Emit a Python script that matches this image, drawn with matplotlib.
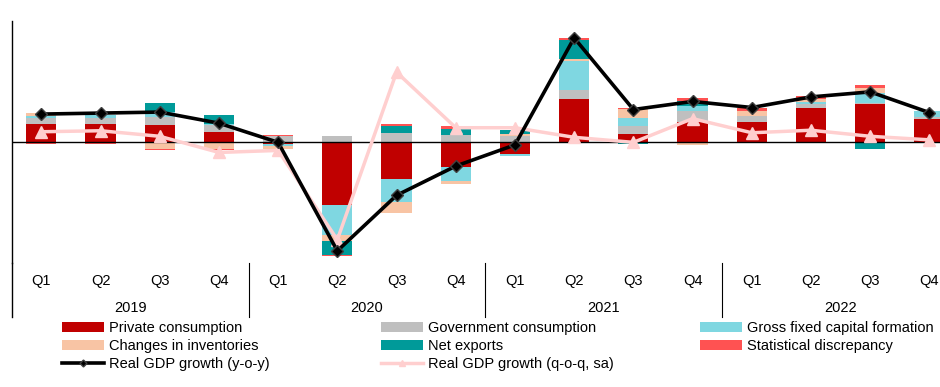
import numpy as np
import matplotlib
matplotlib.use("Agg")
import matplotlib.pyplot as plt
import matplotlib.transforms as mtransforms
from matplotlib.lines import Line2D
from matplotlib.patches import Patch

plt.rcParams['font.family'] = ['Liberation Sans', 'DejaVu Sans']
FS = 10.5

quarters = ['Q1', 'Q2', 'Q3', 'Q4'] * 4
years = ['2019', '2020', '2021', '2022']

# contributions to growth, percentage points
private = [1.8, 1.8, 1.7, 0.95, -0.25, -6.25, -3.65, -2.45,
           -1.2, 4.2, 0.75, 2.0, 2.0, 3.35, 3.7, 2.3]
government = [0.55, 0.55, 0.8, 0.7, 0.55, 0.55, 0.85, 0.65,
              0.6, 0.95, 0.8, 1.05, 0.55, 0.35, 0.1, 0.15]
gfcf = [0.25, 0.35, 0.45, 0.1, -0.15, -3.0, -2.3, -1.45,
        -0.25, 2.85, 0.85, 0.55, 0.05, 0.25, 1.0, 0.65]
inventories = [0.27, 0.0, -0.7, -0.75, -0.35, -0.6, -1.05, -0.25,
               0.15, 0.25, 0.85, -0.3, 0.5, 0.3, 0.5, 0.0]
net_exports = [0.0, 0.0, 0.85, 0.9, 0.0, -1.35, 0.75, 0.65,
               0.4, 1.85, -0.2, 0.45, 0.0, -0.12, -0.7, 0.0]
stat_disc = [-0.25, -0.2, -0.15, -0.1, 0.1, -0.15, 0.15, 0.3,
             0.0, 0.15, 0.15, 0.25, 0.3, 0.25, 0.3, -0.15]
gdp_yoy = [2.75, 2.85, 2.95, 1.85, -0.05, -10.8, -5.3, -2.4,
           -0.3, 10.3, 3.2, 4.0, 3.4, 4.45, 4.95, 2.9]
gdp_qoq = [1.0, 1.1, 0.55, -1.05, -0.85, -9.7, 6.9, 1.4,
           1.4, 0.45, -0.05, 2.3, 0.9, 1.15, 0.55, 0.2]

series = [
    ('Private consumption', private, '#C00000'),
    ('Government consumption', government, '#BFBFBF'),
    ('Gross fixed capital formation', gfcf, '#7FD7E1'),
    ('Changes in inventories', inventories, '#F8C4A4'),
    ('Net exports', net_exports, '#009A99'),
    ('Statistical discrepancy', stat_disc, '#FF5252'),
]

W, H = 940, 387
fig = plt.figure(figsize=(W / 100, H / 100), dpi=100)
ax = fig.add_axes([11.7 / W, 1 - 263 / H, (959 - 11.7) / W, (263 - 20.7) / H])

x = np.arange(len(quarters))
pos_base = np.zeros(len(x))
neg_base = np.zeros(len(x))
handles = {}
for name, vals, col in series:
    v = np.array(vals)
    pos = np.where(v > 0, v, 0)
    neg = np.where(v < 0, v, 0)
    ax.bar(x, pos, 0.51, bottom=pos_base, color=col, linewidth=0, zorder=2)
    ax.bar(x, neg, 0.51, bottom=neg_base, color=col, linewidth=0, zorder=2)
    pos_base += pos
    neg_base += neg
    handles[name] = Patch(color=col, linewidth=0)

ax.axhline(0, color='black', lw=1.0, zorder=3)

pink = '#FFCFCF'
ax.plot(x, gdp_qoq, color=pink, lw=2.5, marker='^', ms=9,
        mfc=pink, mec=pink, zorder=4)
ax.plot(x, gdp_yoy, color='black', lw=2.6, marker='D', ms=6.5,
        mfc='black', mec='#404040', mew=1.0, zorder=5)

ax.set_xlim(-0.5, 15.5)
ax.set_ylim(-12, 12)
ax.set_yticks([])
ax.set_xticks([])
for s in ['top', 'right', 'bottom']:
    ax.spines[s].set_visible(False)
ax.spines['left'].set_linewidth(1.0)

# category axis below the plot
blend = mtransforms.blended_transform_factory(ax.transData, ax.transAxes)
low = -(317 - 263) / (263 - 20.7)
ax.plot([0, 0], [0, low], transform=ax.transAxes, color='black', lw=1.0, clip_on=False)
for sep in [3.5, 7.5, 11.5]:
    ax.plot([sep, sep], [0, low], transform=blend, color='black', lw=0.8, clip_on=False)
for xi, q in zip(x, quarters):
    ax.text(xi, -(281 - 263) / 242.3, q, transform=blend, ha='center', va='center', fontsize=FS)
for i, yr in enumerate(years):
    ax.text(4 * i + 1.5, -(308 - 263) / 242.3, yr, transform=blend, ha='center', va='center', fontsize=FS)

yoy_h = Line2D([], [], color='black', lw=2.6, marker='D', ms=3.5, mfc='black', mec='#404040')
qoq_h = Line2D([], [], color=pink, lw=2.5, marker='^', ms=4.5, mfc=pink, mec=pink)
columns = [
    (62, [('Private consumption', handles['Private consumption']),
          ('Changes in inventories', handles['Changes in inventories']),
          ('Real GDP growth (y-o-y)', yoy_h)]),
    (381, [('Government consumption', handles['Government consumption']),
           ('Net exports', handles['Net exports']),
           ('Real GDP growth (q-o-q, sa)', qoq_h)]),
    (700, [('Gross fixed capital formation', handles['Gross fixed capital formation']),
           ('Statistical discrepancy', handles['Statistical discrepancy'])]),
]
for xpos, entries in columns:
    leg = fig.legend([e[1] for e in entries], [e[0] for e in entries],
                     loc='upper left', bbox_to_anchor=(xpos / W, 1 - 321 / H),
                     frameon=False, fontsize=FS, handlelength=2.85, handletextpad=0.4,
                     borderpad=0, borderaxespad=0, labelspacing=0.26, handleheight=0.65)

fig.savefig('out.png', dpi=100)
